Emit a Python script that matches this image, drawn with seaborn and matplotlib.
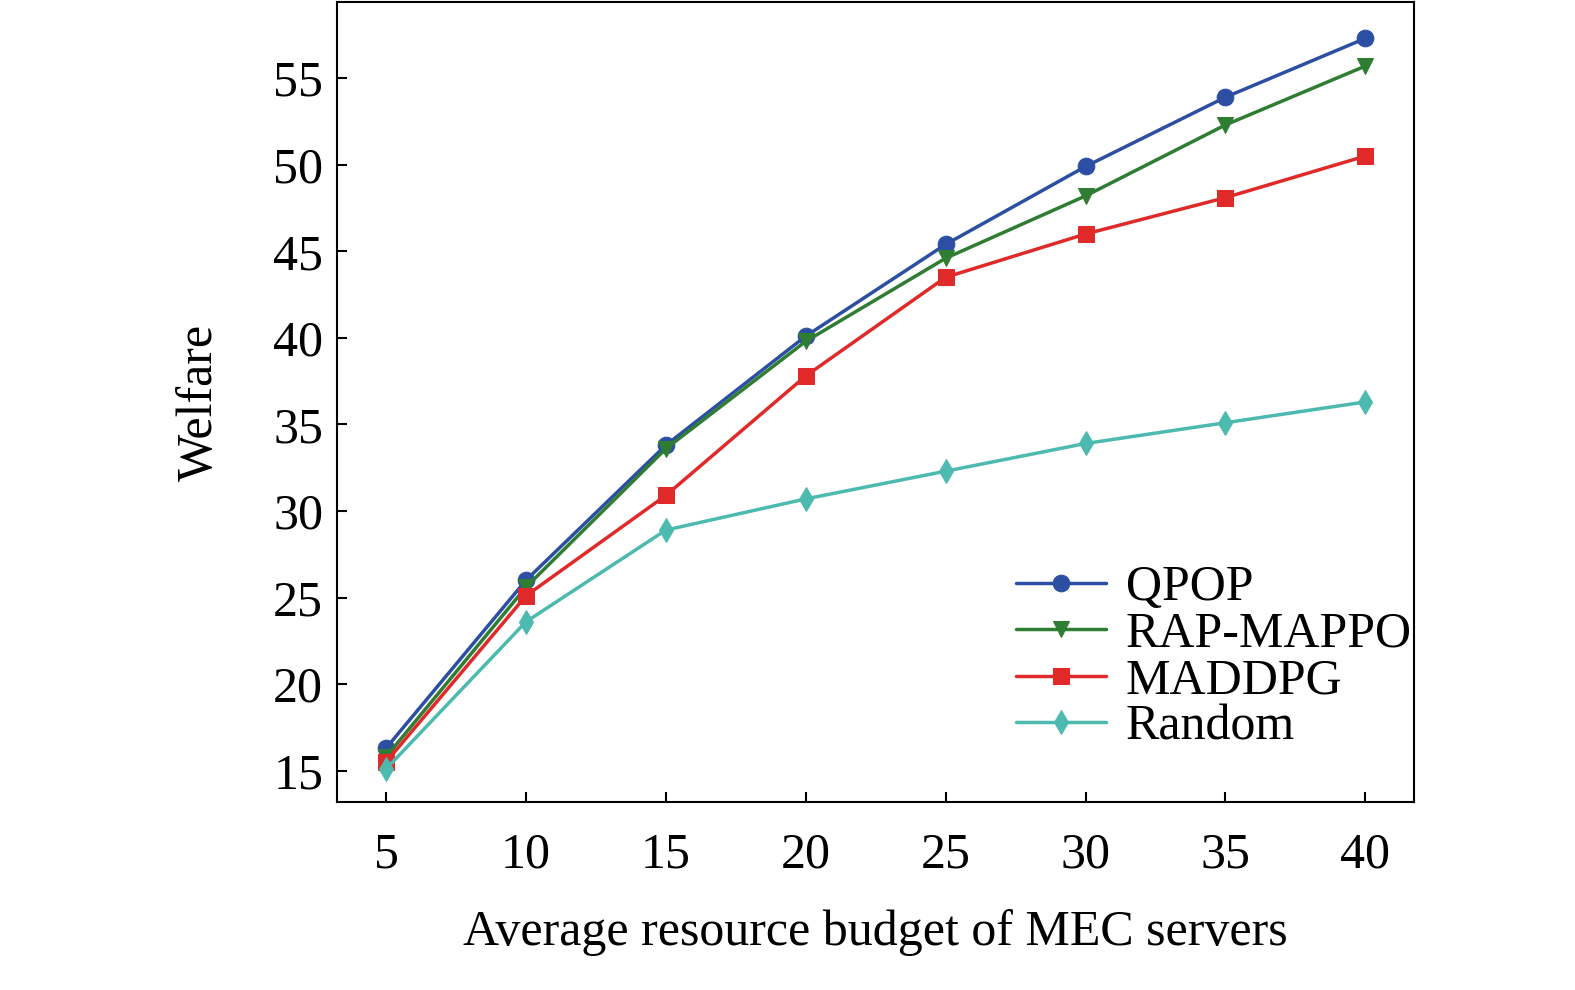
import matplotlib
matplotlib.use("Agg")
import matplotlib.pyplot as plt
import pandas as pd
import seaborn as sns

budget = [5, 10, 15, 20, 25, 30, 35, 40]
qpop = [16.3, 26.0, 33.8, 40.1, 45.4, 49.9, 53.9, 57.3]
rap_mappo = [15.8, 25.6, 33.6, 39.8, 44.6, 48.2, 52.3, 55.7]
maddpg = [15.5, 25.1, 30.9, 37.8, 43.5, 46.0, 48.1, 50.5]
rand = [15.1, 23.6, 28.9, 30.7, 32.3, 33.9, 35.1, 36.3]

names = ["QPOP", "RAP-MAPPO", "MADDPG", "Random"]
colors = ["#2c4fa3", "#2e7d32", "#e02a2a", "#4dbab0"]
markers = ["o", "v", "s", "d"]

sns.set_theme(style="ticks")
plt.rcParams['font.family'] = ['Liberation Serif', 'DejaVu Serif']
plt.rcParams['text.color'] = 'black'
plt.rcParams['xtick.color'] = 'black'
plt.rcParams['ytick.color'] = 'black'
plt.rcParams['axes.labelcolor'] = 'black'

df = pd.DataFrame({"budget": budget * 4,
                   "welfare": qpop + rap_mappo + maddpg + rand,
                   "method": [n for n in names for _ in budget]})

fig = plt.figure(figsize=(15.75, 9.9), dpi=100)
ax = fig.add_axes([0.214, 0.19, 0.684, 0.808])
for name, c, m in zip(names, colors, markers):
    sub = df[df["method"] == name]
    sns.lineplot(data=sub, x="budget", y="welfare", ax=ax, color=c, marker=m,
                 markersize=12, markeredgecolor=c, linewidth=2.5, label=name)

ax.set_xlim(3.25, 41.75)
ax.set_ylim(13.2, 59.4)
ax.set_xticks(budget)
ax.set_yticks(range(15, 60, 5))
ax.tick_params(direction="in", labelsize=36, length=7, width=1.5)
ax.tick_params(axis="x", pad=22)
ax.tick_params(axis="y", pad=10)
for s in ax.spines.values():
    s.set_linewidth(1.5)
    s.set_color("black")
ax.set_xlabel("Average resource budget of MEC servers", fontsize=36, labelpad=22)
ax.set_ylabel("Welfare", fontsize=36, labelpad=36)
ax.legend(loc="lower right", frameon=False, fontsize=36, handlelength=1.8,
          handletextpad=0.4, borderaxespad=0.3, labelspacing=0.0,
          bbox_to_anchor=(1.03, 0.02))
fig.savefig("out.png", dpi=100)
